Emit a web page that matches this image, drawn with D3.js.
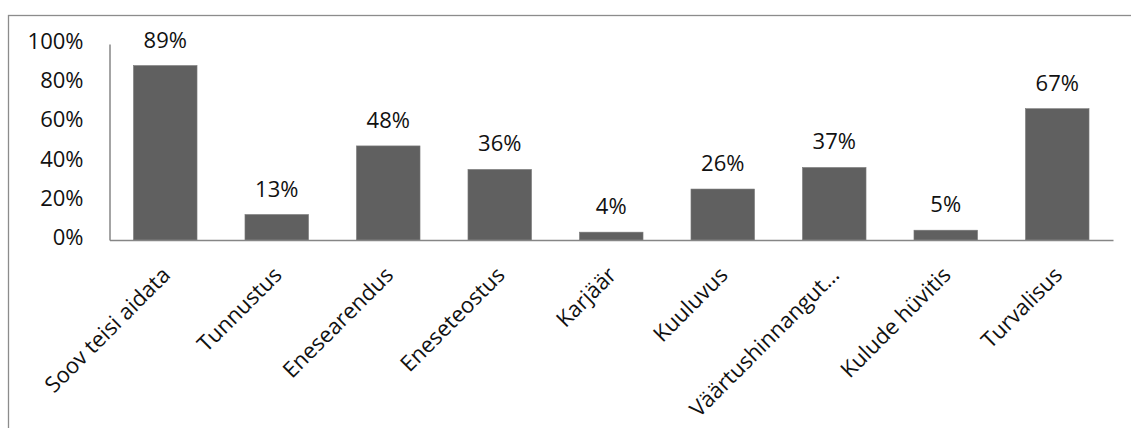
<!DOCTYPE html>
<html><head><meta charset="utf-8">
<script src="https://cdn.jsdelivr.net/npm/d3@7"></script>
<style>body{margin:0;background:#fff}svg{display:block}</style>
</head><body>
<svg id="c" width="1131" height="428"></svg>
<script>
const categories = ["Soov teisi aidata","Tunnustus","Enesearendus","Eneseteostus","Karjäär","Kuuluvus","Väärtushinnangut…","Kulude hüvitis","Turvalisus"];
const values = [0.89,0.13,0.48,0.36,0.04,0.26,0.37,0.05,0.67];
const yTicks = [0,0.2,0.4,0.6,0.8,1.0];

const svg = d3.select("#c");
const font = "'Open Sans', sans-serif";
// frame
svg.append("rect").attr("x",8.5).attr("y",15.5).attr("width",1200).attr("height",500)
  .attr("fill","none").attr("stroke","#8c8c8c").attr("stroke-width",1.3);

const x = d3.scaleBand().domain(categories).range([109.5,1113]).paddingInner(0.43).paddingOuter(0.215);
const y = d3.scaleLinear().domain([0,1]).range([240,44]);

// bars
svg.selectAll("rect.bar").data(values).join("rect").attr("class","bar")
  .attr("x",(d,i)=>x(categories[i])).attr("width",x.bandwidth())
  .attr("y",d=>y(d)).attr("height",d=>y(0)-y(d))
  .attr("fill","#606060").attr("stroke","#7a7a7a").attr("stroke-width",0.6);

// axes
const yAxis = svg.append("g").attr("transform","translate(109.5,0)")
  .call(d3.axisLeft(y).tickValues(yTicks).tickFormat(d3.format(".0%")).tickSize(0).tickPadding(26));
yAxis.select(".domain").attr("stroke","#868686").attr("stroke-width",1.5);
yAxis.selectAll("text").attr("font-family",font).attr("font-size","22px").attr("fill","#111").attr("dy","0.2em");

const xAxis = svg.append("g").attr("transform","translate(0,240)")
  .call(d3.axisBottom(x).tickSize(0).tickSizeOuter(0));
xAxis.select(".domain").attr("stroke","#868686").attr("stroke-width",1.5);
xAxis.selectAll("text").attr("font-family",font).attr("font-size","22px").attr("fill","#111")
  .attr("text-anchor","end").attr("dy","0.35em")
  .attr("transform","translate(1,31) rotate(-45)").attr("x",0).attr("y",0);

// value labels
svg.selectAll("text.val").data(values).join("text").attr("class","val")
  .attr("x",(d,i)=>x(categories[i])+x.bandwidth()/2).attr("y",d=>y(d)-18)
  .attr("text-anchor","middle").attr("font-family",font).attr("font-size","22px").attr("fill","#111")
  .text(d=>d3.format(".0%")(d));
</script>
</body></html>
